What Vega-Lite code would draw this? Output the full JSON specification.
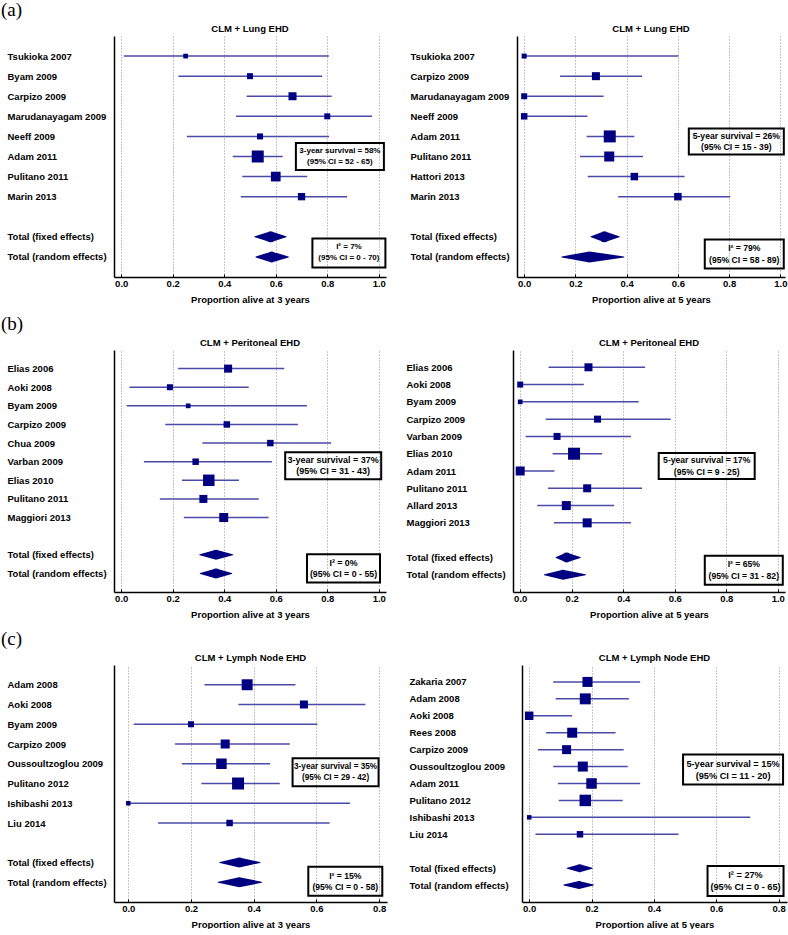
{
"$schema": "https://vega.github.io/schema/vega-lite/v6.json",
"padding": {"left": 1, "top": 0, "right": 0, "bottom": 0},
"config": {
 "view": {"stroke": null},
 "font": "Liberation Sans",
 "title": {"fontSize": 9.5, "fontWeight": "bold", "color": "black", "offset": 3, "frame": "group"},
 "axisX": {"grid": true, "gridColor": "#8c8c8c", "gridDash": [1, 2], "gridWidth": 1, "tickSize": -3, "tickColor": "black", "domainColor": "black", "domainWidth": 1.5, "labelFontSize": 9.5, "labelFontWeight": "bold", "labelColor": "black", "labelPadding": 4, "labelFlush": false, "labelOverlap": false, "titleFontSize": 9.5, "titleFontWeight": "bold", "titleColor": "black", "titlePadding": 7},
 "axisY": {"grid": false, "ticks": false, "domainColor": "black", "domainWidth": 1.5, "labelAlign": "left", "labelBaseline": "middle", "labelFontSize": 9.5, "labelFontWeight": "bold", "labelColor": "black", "labelLimit": 300}
},
"datasets": {
 "lung3": [
  {"study": "Tsukioka 2007", "kind": "study", "est": 0.25, "lo": 0.01, "hi": 0.806, "weight": 3.7},
  {"study": "Byam 2009", "kind": "study", "est": 0.5, "lo": 0.222, "hi": 0.78, "weight": 6},
  {"study": "Carpizo 2009", "kind": "study", "est": 0.665, "lo": 0.487, "hi": 0.817, "weight": 10.7},
  {"study": "Marudanayagam 2009", "kind": "study", "est": 0.8, "lo": 0.446, "hi": 0.974, "weight": 6},
  {"study": "Neeff 2009", "kind": "study", "est": 0.539, "lo": 0.255, "hi": 0.807, "weight": 6},
  {"study": "Adam 2011", "kind": "study", "est": 0.53, "lo": 0.433, "hi": 0.627, "weight": 24},
  {"study": "Pulitano 2011", "kind": "study", "est": 0.6, "lo": 0.47, "hi": 0.722, "weight": 15.7},
  {"study": "Marin 2013", "kind": "study", "est": 0.7, "lo": 0.464, "hi": 0.877, "weight": 8.9},
  {"study": "Total (fixed effects)", "kind": "total", "est": 0.58, "lo": 0.519, "hi": 0.64},
  {"study": "Total (random effects)", "kind": "total", "est": 0.584, "lo": 0.523, "hi": 0.649}
 ],
 "lung5": [
  {"study": "Tsukioka 2007", "kind": "study", "est": 0, "lo": 0, "hi": 0.602, "weight": 4.2},
  {"study": "Carpizo 2009", "kind": "study", "est": 0.28, "lo": 0.14, "hi": 0.46, "weight": 10.7},
  {"study": "Marudanayagam 2009", "kind": "study", "est": 0, "lo": 0, "hi": 0.31, "weight": 6},
  {"study": "Neeff 2009", "kind": "study", "est": 0, "lo": 0, "hi": 0.247, "weight": 7},
  {"study": "Adam 2011", "kind": "study", "est": 0.334, "lo": 0.244, "hi": 0.43, "weight": 24},
  {"study": "Pulitano 2011", "kind": "study", "est": 0.332, "lo": 0.218, "hi": 0.464, "weight": 16.7},
  {"study": "Hattori 2013", "kind": "study", "est": 0.43, "lo": 0.248, "hi": 0.626, "weight": 9.4},
  {"study": "Marin 2013", "kind": "study", "est": 0.6, "lo": 0.367, "hi": 0.804, "weight": 9.4},
  {"study": "Total (fixed effects)", "kind": "total", "est": 0.313, "lo": 0.261, "hi": 0.371},
  {"study": "Total (random effects)", "kind": "total", "est": 0.255, "lo": 0.147, "hi": 0.389}
 ],
 "perit3": [
  {"study": "Elias 2006", "kind": "study", "est": 0.415, "lo": 0.221, "hi": 0.633, "weight": 10.7},
  {"study": "Aoki 2008", "kind": "study", "est": 0.189, "lo": 0.032, "hi": 0.495, "weight": 6},
  {"study": "Byam 2009", "kind": "study", "est": 0.26, "lo": 0.021, "hi": 0.721, "weight": 3.7},
  {"study": "Carpizo 2009", "kind": "study", "est": 0.41, "lo": 0.171, "hi": 0.686, "weight": 7},
  {"study": "Chua 2009", "kind": "study", "est": 0.579, "lo": 0.315, "hi": 0.815, "weight": 7},
  {"study": "Varban 2009", "kind": "study", "est": 0.289, "lo": 0.088, "hi": 0.585, "weight": 7},
  {"study": "Elias 2010", "kind": "study", "est": 0.34, "lo": 0.236, "hi": 0.457, "weight": 22},
  {"study": "Pulitano 2011", "kind": "study", "est": 0.319, "lo": 0.15, "hi": 0.534, "weight": 10.7},
  {"study": "Maggiori 2013", "kind": "study", "est": 0.398, "lo": 0.243, "hi": 0.572, "weight": 13.5},
  {"study": "Total (fixed effects)", "kind": "total", "est": 0.368, "lo": 0.305, "hi": 0.433},
  {"study": "Total (random effects)", "kind": "total", "est": 0.368, "lo": 0.307, "hi": 0.429}
 ],
 "perit5": [
  {"study": "Elias 2006", "kind": "study", "est": 0.265, "lo": 0.11, "hi": 0.485, "weight": 10.7},
  {"study": "Aoki 2008", "kind": "study", "est": 0, "lo": 0, "hi": 0.247, "weight": 6},
  {"study": "Byam 2009", "kind": "study", "est": 0, "lo": 0, "hi": 0.46, "weight": 3.7},
  {"study": "Carpizo 2009", "kind": "study", "est": 0.3, "lo": 0.099, "hi": 0.584, "weight": 8.2},
  {"study": "Varban 2009", "kind": "study", "est": 0.143, "lo": 0.021, "hi": 0.43, "weight": 8.2},
  {"study": "Elias 2010", "kind": "study", "est": 0.209, "lo": 0.126, "hi": 0.318, "weight": 24},
  {"study": "Adam 2011", "kind": "study", "est": 0, "lo": 0, "hi": 0.133, "weight": 13.5},
  {"study": "Pulitano 2011", "kind": "study", "est": 0.26, "lo": 0.108, "hi": 0.473, "weight": 10.7},
  {"study": "Allard 2013", "kind": "study", "est": 0.179, "lo": 0.066, "hi": 0.365, "weight": 13.5},
  {"study": "Maggiori 2013", "kind": "study", "est": 0.26, "lo": 0.131, "hi": 0.43, "weight": 13.5},
  {"study": "Total (fixed effects)", "kind": "total", "est": 0.18, "lo": 0.139, "hi": 0.233},
  {"study": "Total (random effects)", "kind": "total", "est": 0.166, "lo": 0.094, "hi": 0.253}
 ],
 "lymph3": [
  {"study": "Adam 2008", "kind": "study", "est": 0.379, "lo": 0.243, "hi": 0.533, "weight": 20},
  {"study": "Aoki 2008", "kind": "study", "est": 0.56, "lo": 0.351, "hi": 0.756, "weight": 10.7},
  {"study": "Byam 2009", "kind": "study", "est": 0.2, "lo": 0.017, "hi": 0.603, "weight": 6},
  {"study": "Carpizo 2009", "kind": "study", "est": 0.309, "lo": 0.149, "hi": 0.515, "weight": 13.5},
  {"study": "Oussoultzoglou 2009", "kind": "study", "est": 0.297, "lo": 0.171, "hi": 0.452, "weight": 18.4},
  {"study": "Pulitano 2012", "kind": "study", "est": 0.35, "lo": 0.233, "hi": 0.483, "weight": 24},
  {"study": "Ishibashi 2013", "kind": "study", "est": 0, "lo": 0, "hi": 0.707, "weight": 3.4},
  {"study": "Liu 2014", "kind": "study", "est": 0.323, "lo": 0.095, "hi": 0.642, "weight": 7},
  {"study": "Total (fixed effects)", "kind": "total", "est": 0.354, "lo": 0.292, "hi": 0.42},
  {"study": "Total (random effects)", "kind": "total", "est": 0.354, "lo": 0.287, "hi": 0.425}
 ],
 "lymph5": [
  {"study": "Zakaria 2007", "kind": "study", "est": 0.187, "lo": 0.077, "hi": 0.356, "weight": 16.7},
  {"study": "Adam 2008", "kind": "study", "est": 0.18, "lo": 0.085, "hi": 0.32, "weight": 20},
  {"study": "Aoki 2008", "kind": "study", "est": 0, "lo": 0, "hi": 0.138, "weight": 12},
  {"study": "Rees 2008", "kind": "study", "est": 0.138, "lo": 0.054, "hi": 0.277, "weight": 16.7},
  {"study": "Carpizo 2009", "kind": "study", "est": 0.12, "lo": 0.028, "hi": 0.303, "weight": 13.5},
  {"study": "Oussoultzoglou 2009", "kind": "study", "est": 0.172, "lo": 0.077, "hi": 0.316, "weight": 16.7},
  {"study": "Adam 2011", "kind": "study", "est": 0.2, "lo": 0.092, "hi": 0.356, "weight": 18.4},
  {"study": "Pulitano 2012", "kind": "study", "est": 0.18, "lo": 0.095, "hi": 0.3, "weight": 22},
  {"study": "Ishibashi 2013", "kind": "study", "est": 0, "lo": 0, "hi": 0.709, "weight": 3.4},
  {"study": "Liu 2014", "kind": "study", "est": 0.163, "lo": 0.02, "hi": 0.479, "weight": 7},
  {"study": "Total (fixed effects)", "kind": "total", "est": 0.162, "lo": 0.122, "hi": 0.202},
  {"study": "Total (random effects)", "kind": "total", "est": 0.16, "lo": 0.111, "hi": 0.206}
 ],
 "notes": [
  {"panel": "lung3", "survival": "3-year survival = 58%\n(95% CI = 52 - 65)", "het": "I² = 7%\n(95% CI = 0 - 70)"},
  {"panel": "lung5", "survival": "5-year survival = 26%\n(95% CI = 15 - 39)", "het": "I² = 79%\n(95% CI = 58 - 89)"},
  {"panel": "perit3", "survival": "3-year survival = 37%\n(95% CI = 31 - 43)", "het": "I² = 0%\n(95% CI = 0 - 55)"},
  {"panel": "perit5", "survival": "5-year survival = 17%\n(95% CI = 9 - 25)", "het": "I² = 65%\n(95% CI = 31 - 82)"},
  {"panel": "lymph3", "survival": "3-year survival = 35%\n(95% CI = 29 - 42)", "het": "I² = 15%\n(95% CI = 0 - 58)"},
  {"panel": "lymph5", "survival": "5-year survival = 15%\n(95% CI = 11 - 20)", "het": "I² = 27%\n(95% CI = 0 - 65)"}
 ]
},
"columns": 1,
"align": "none",
"spacing": 10,
"concat": [
 {
  "title": {"text": "(a)", "anchor": "start", "frame": "bounds", "font": "Liberation Serif", "fontSize": 19, "fontWeight": "normal", "dx": -6, "offset": 4},
  "spacing": 20,
  "hconcat": [
   {
    "width": 272, "height": 241,
    "title": "CLM + Lung EHD",
    "data": {"name": "lung3"},
    "layer": [
     {
      "encoding": {
       "y": {"field": "study", "type": "nominal", "scale": {"type": "point", "padding": 1.1, "domain": ["Tsukioka 2007", "Byam 2009", "Carpizo 2009", "Marudanayagam 2009", "Neeff 2009", "Adam 2011", "Pulitano 2011", "Marin 2013", " ", "Total (fixed effects)", "Total (random effects)"]}, "axis": {"title": null, "labelPadding": 107, "minExtent": 107, "maxExtent": 107}},
       "x": {"field": "est", "type": "quantitative", "scale": {"domain": [-0.028, 1.028], "nice": false, "zero": false}, "axis": {"title": "Proportion alive at 3 years", "values": [0, 0.1, 0.2, 0.3, 0.4, 0.5, 0.6, 0.7, 0.8, 0.9, 1], "labelExpr": "round(datum.value*10)%2==0 ? format(datum.value,'.1f') : ''", "gridOpacity": {"condition": {"test": "round(datum.value*10)%2==1", "value": 0}, "value": 1}}}
      },
      "layer": [
       {"transform": [{"filter": "datum.kind == 'study'"}], "mark": {"type": "rule", "color": "#4a4aa8", "strokeWidth": 1.5}, "encoding": {"x": {"field": "lo", "type": "quantitative"}, "x2": {"field": "hi"}}},
       {"transform": [{"filter": "datum.kind == 'study'"}], "mark": {"type": "point", "shape": "square", "filled": true, "color": "#000080", "opacity": 1}, "encoding": {"size": {"field": "weight", "type": "quantitative", "scale": {"domain": [0, 30], "range": [0, 180]}, "legend": null}}},
       {"transform": [{"filter": "datum.kind == 'total'"}, {"fold": ["lo", "est", "hi"], "as": ["k", "v"]}], "mark": {"type": "trail", "color": "#000080"}, "encoding": {"x": {"field": "v", "type": "quantitative"}, "order": {"field": "v", "type": "quantitative"}, "detail": {"field": "study"}, "size": {"condition": {"test": "datum.k == 'est'", "value": 11}, "value": 0}}}
      ]
     },
     {
      "data": {"name": "notes"}, "transform": [{"filter": "datum.panel == 'lung3'"}],
      "encoding": {"x": {"datum": 0.849}, "y": {"datum": "Adam 2011"}},
      "layer": [
       {"mark": {"type": "point", "shape": "M-1,-0.307L1,-0.307L1,0.307L-1,0.307Z", "size": 7744, "filled": false, "color": "black", "strokeWidth": 2, "opacity": 1, "yOffset": 0}},
       {"mark": {"type": "text", "lineBreak": "\n", "fontSize": 8, "fontWeight": "bold", "lineHeight": 11, "color": "black", "yOffset": -5.5}, "encoding": {"text": {"field": "survival"}}}
      ]
     },
     {
      "data": {"name": "notes"}, "transform": [{"filter": "datum.panel == 'lung3'"}],
      "encoding": {"x": {"datum": 0.884}, "y": {"datum": "Total (random effects)"}},
      "layer": [
       {"mark": {"type": "point", "shape": "M-1,-0.397L1,-0.397L1,0.397L-1,0.397Z", "size": 5329, "filled": false, "color": "black", "strokeWidth": 2, "opacity": 1, "yOffset": -4}},
       {"mark": {"type": "text", "lineBreak": "\n", "fontSize": 8, "fontWeight": "bold", "lineHeight": 11, "color": "black", "yOffset": -9.5}, "encoding": {"text": {"field": "het"}}}
      ]
     }
    ]
   },
   {
    "width": 268, "height": 241,
    "title": "CLM + Lung EHD",
    "data": {"name": "lung5"},
    "layer": [
     {
      "encoding": {
       "y": {"field": "study", "type": "nominal", "scale": {"type": "point", "padding": 1.1, "domain": ["Tsukioka 2007", "Carpizo 2009", "Marudanayagam 2009", "Neeff 2009", "Adam 2011", "Pulitano 2011", "Hattori 2013", "Marin 2013", " ", "Total (fixed effects)", "Total (random effects)"]}, "axis": {"title": null, "labelPadding": 107, "minExtent": 107, "maxExtent": 107}},
       "x": {"field": "est", "type": "quantitative", "scale": {"domain": [-0.028, 1.018], "nice": false, "zero": false}, "axis": {"title": "Proportion alive at 5 years", "values": [0, 0.1, 0.2, 0.3, 0.4, 0.5, 0.6, 0.7, 0.8, 0.9, 1], "labelExpr": "round(datum.value*10)%2==0 ? format(datum.value,'.1f') : ''", "gridOpacity": {"condition": {"test": "round(datum.value*10)%2==1", "value": 0}, "value": 1}}}
      },
      "layer": [
       {"transform": [{"filter": "datum.kind == 'study'"}], "mark": {"type": "rule", "color": "#4a4aa8", "strokeWidth": 1.5}, "encoding": {"x": {"field": "lo", "type": "quantitative"}, "x2": {"field": "hi"}}},
       {"transform": [{"filter": "datum.kind == 'study'"}], "mark": {"type": "point", "shape": "square", "filled": true, "color": "#000080", "opacity": 1}, "encoding": {"size": {"field": "weight", "type": "quantitative", "scale": {"domain": [0, 30], "range": [0, 180]}, "legend": null}}},
       {"transform": [{"filter": "datum.kind == 'total'"}, {"fold": ["lo", "est", "hi"], "as": ["k", "v"]}], "mark": {"type": "trail", "color": "#000080"}, "encoding": {"x": {"field": "v", "type": "quantitative"}, "order": {"field": "v", "type": "quantitative"}, "detail": {"field": "study"}, "size": {"condition": {"test": "datum.k == 'est'", "value": 11}, "value": 0}}}
      ]
     },
     {
      "data": {"name": "notes"}, "transform": [{"filter": "datum.panel == 'lung5'"}],
      "encoding": {"x": {"datum": 0.828}, "y": {"datum": "Adam 2011"}},
      "layer": [
       {"mark": {"type": "point", "shape": "M-1,-0.274L1,-0.274L1,0.274L-1,0.274Z", "size": 9025, "filled": false, "color": "black", "strokeWidth": 2, "opacity": 1, "yOffset": 5}},
       {"mark": {"type": "text", "lineBreak": "\n", "fontSize": 8.6, "fontWeight": "bold", "lineHeight": 11.5, "color": "black", "yOffset": -0.75}, "encoding": {"text": {"field": "survival"}}}
      ]
     },
     {
      "data": {"name": "notes"}, "transform": [{"filter": "datum.panel == 'lung5'"}],
      "encoding": {"x": {"datum": 0.859}, "y": {"datum": "Total (random effects)"}},
      "layer": [
       {"mark": {"type": "point", "shape": "M-1,-0.367L1,-0.367L1,0.367L-1,0.367Z", "size": 6241, "filled": false, "color": "black", "strokeWidth": 2, "opacity": 1, "yOffset": -3}},
       {"mark": {"type": "text", "lineBreak": "\n", "fontSize": 8.6, "fontWeight": "bold", "lineHeight": 11.5, "color": "black", "yOffset": -8.75}, "encoding": {"text": {"field": "het"}}}
      ]
     }
    ]
   }
  ]
 },
 {
  "title": {"text": "(b)", "anchor": "start", "frame": "bounds", "font": "Liberation Serif", "fontSize": 19, "fontWeight": "normal", "dx": -6, "offset": 4},
  "spacing": 20,
  "hconcat": [
   {
    "width": 272, "height": 242,
    "title": "CLM + Peritoneal EHD",
    "data": {"name": "perit3"},
    "layer": [
     {
      "encoding": {
       "y": {"field": "study", "type": "nominal", "scale": {"type": "point", "padding": 1.23, "domain": ["Elias 2006", "Aoki 2008", "Byam 2009", "Carpizo 2009", "Chua 2009", "Varban 2009", "Elias 2010", "Pulitano 2011", "Maggiori 2013", " ", "Total (fixed effects)", "Total (random effects)"]}, "axis": {"title": null, "labelPadding": 107, "minExtent": 107, "maxExtent": 107}},
       "x": {"field": "est", "type": "quantitative", "scale": {"domain": [-0.028, 1.028], "nice": false, "zero": false}, "axis": {"title": "Proportion alive at 3 years", "values": [0, 0.1, 0.2, 0.3, 0.4, 0.5, 0.6, 0.7, 0.8, 0.9, 1], "labelExpr": "round(datum.value*10)%2==0 ? format(datum.value,'.1f') : ''", "gridOpacity": {"condition": {"test": "round(datum.value*10)%2==1", "value": 0}, "value": 1}}}
      },
      "layer": [
       {"transform": [{"filter": "datum.kind == 'study'"}], "mark": {"type": "rule", "color": "#4a4aa8", "strokeWidth": 1.5}, "encoding": {"x": {"field": "lo", "type": "quantitative"}, "x2": {"field": "hi"}}},
       {"transform": [{"filter": "datum.kind == 'study'"}], "mark": {"type": "point", "shape": "square", "filled": true, "color": "#000080", "opacity": 1}, "encoding": {"size": {"field": "weight", "type": "quantitative", "scale": {"domain": [0, 30], "range": [0, 180]}, "legend": null}}},
       {"transform": [{"filter": "datum.kind == 'total'"}, {"fold": ["lo", "est", "hi"], "as": ["k", "v"]}], "mark": {"type": "trail", "color": "#000080"}, "encoding": {"x": {"field": "v", "type": "quantitative"}, "order": {"field": "v", "type": "quantitative"}, "detail": {"field": "study"}, "size": {"condition": {"test": "datum.k == 'est'", "value": 10}, "value": 0}}}
      ]
     },
     {
      "data": {"name": "notes"}, "transform": [{"filter": "datum.panel == 'perit3'"}],
      "encoding": {"x": {"datum": 0.823}, "y": {"datum": "Varban 2009"}},
      "layer": [
       {"mark": {"type": "point", "shape": "M-1,-0.281L1,-0.281L1,0.281L-1,0.281Z", "size": 9216, "filled": false, "color": "black", "strokeWidth": 2, "opacity": 1, "yOffset": 4}},
       {"mark": {"type": "text", "lineBreak": "\n", "fontSize": 9, "fontWeight": "bold", "lineHeight": 11.5, "color": "black", "yOffset": -1.75}, "encoding": {"text": {"field": "survival"}}}
      ]
     },
     {
      "data": {"name": "notes"}, "transform": [{"filter": "datum.panel == 'perit3'"}],
      "encoding": {"x": {"datum": 0.863}, "y": {"datum": "Total (random effects)"}},
      "layer": [
       {"mark": {"type": "point", "shape": "M-1,-0.384L1,-0.384L1,0.384L-1,0.384Z", "size": 5329, "filled": false, "color": "black", "strokeWidth": 2, "opacity": 1, "yOffset": -5}},
       {"mark": {"type": "text", "lineBreak": "\n", "fontSize": 8.8, "fontWeight": "bold", "lineHeight": 11.5, "color": "black", "yOffset": -10.75}, "encoding": {"text": {"field": "het"}}}
      ]
     }
    ]
   },
   {
    "width": 272, "height": 242,
    "title": "CLM + Peritoneal EHD",
    "data": {"name": "perit5"},
    "layer": [
     {
      "encoding": {
       "y": {"field": "study", "type": "nominal", "scale": {"type": "point", "padding": 1.3, "domain": ["Elias 2006", "Aoki 2008", "Byam 2009", "Carpizo 2009", "Varban 2009", "Elias 2010", "Adam 2011", "Pulitano 2011", "Allard 2013", "Maggiori 2013", " ", "Total (fixed effects)", "Total (random effects)"]}, "axis": {"title": null, "labelPadding": 107, "minExtent": 107, "maxExtent": 107}},
       "x": {"field": "est", "type": "quantitative", "scale": {"domain": [-0.028, 1.028], "nice": false, "zero": false}, "axis": {"title": "Proportion alive at 5 years", "values": [0, 0.1, 0.2, 0.3, 0.4, 0.5, 0.6, 0.7, 0.8, 0.9, 1], "labelExpr": "round(datum.value*10)%2==0 ? format(datum.value,'.1f') : ''", "gridOpacity": {"condition": {"test": "round(datum.value*10)%2==1", "value": 0}, "value": 1}}}
      },
      "layer": [
       {"transform": [{"filter": "datum.kind == 'study'"}], "mark": {"type": "rule", "color": "#4a4aa8", "strokeWidth": 1.5}, "encoding": {"x": {"field": "lo", "type": "quantitative"}, "x2": {"field": "hi"}}},
       {"transform": [{"filter": "datum.kind == 'study'"}], "mark": {"type": "point", "shape": "square", "filled": true, "color": "#000080", "opacity": 1}, "encoding": {"size": {"field": "weight", "type": "quantitative", "scale": {"domain": [0, 30], "range": [0, 180]}, "legend": null}}},
       {"transform": [{"filter": "datum.kind == 'total'"}, {"fold": ["lo", "est", "hi"], "as": ["k", "v"]}], "mark": {"type": "trail", "color": "#000080"}, "encoding": {"x": {"field": "v", "type": "quantitative"}, "order": {"field": "v", "type": "quantitative"}, "detail": {"field": "study"}, "size": {"condition": {"test": "datum.k == 'est'", "value": 10}, "value": 0}}}
      ]
     },
     {
      "data": {"name": "notes"}, "transform": [{"filter": "datum.panel == 'perit5'"}],
      "encoding": {"x": {"datum": 0.724}, "y": {"datum": "Adam 2011"}},
      "layer": [
       {"mark": {"type": "point", "shape": "M-1,-0.271L1,-0.271L1,0.271L-1,0.271Z", "size": 9216, "filled": false, "color": "black", "strokeWidth": 2, "opacity": 1, "yOffset": -5}},
       {"mark": {"type": "text", "lineBreak": "\n", "fontSize": 8.6, "fontWeight": "bold", "lineHeight": 11.5, "color": "black", "yOffset": -10.75}, "encoding": {"text": {"field": "survival"}}}
      ]
     },
     {
      "data": {"name": "notes"}, "transform": [{"filter": "datum.panel == 'perit5'"}],
      "encoding": {"x": {"datum": 0.868}, "y": {"datum": "Total (random effects)"}},
      "layer": [
       {"mark": {"type": "point", "shape": "M-1,-0.372L1,-0.372L1,0.372L-1,0.372Z", "size": 6084, "filled": false, "color": "black", "strokeWidth": 2, "opacity": 1, "yOffset": -4.5}},
       {"mark": {"type": "text", "lineBreak": "\n", "fontSize": 8.6, "fontWeight": "bold", "lineHeight": 11.5, "color": "black", "yOffset": -10.25}, "encoding": {"text": {"field": "het"}}}
      ]
     }
    ]
   }
  ]
 },
 {
  "title": {"text": "(c)", "anchor": "start", "frame": "bounds", "font": "Liberation Serif", "fontSize": 19, "fontWeight": "normal", "dx": -6, "offset": 4},
  "spacing": 22,
  "hconcat": [
   {
    "width": 273, "height": 237,
    "title": "CLM + Lymph Node EHD",
    "data": {"name": "lymph3"},
    "layer": [
     {
      "encoding": {
       "y": {"field": "study", "type": "nominal", "scale": {"type": "point", "padding": 1.17, "domain": ["Adam 2008", "Aoki 2008", "Byam 2009", "Carpizo 2009", "Oussoultzoglou 2009", "Pulitano 2012", "Ishibashi 2013", "Liu 2014", " ", "Total (fixed effects)", "Total (random effects)"]}, "axis": {"title": null, "labelPadding": 107, "minExtent": 107, "maxExtent": 107}},
       "x": {"field": "est", "type": "quantitative", "scale": {"domain": [-0.0456, 0.825], "nice": false, "zero": false}, "axis": {"title": "Proportion alive at 3 years", "values": [0, 0.1, 0.2, 0.3, 0.4, 0.5, 0.6, 0.7, 0.8], "labelExpr": "round(datum.value*10)%2==0 ? format(datum.value,'.1f') : ''", "gridOpacity": {"condition": {"test": "round(datum.value*10)%2==1", "value": 0}, "value": 1}}}
      },
      "layer": [
       {"transform": [{"filter": "datum.kind == 'study'"}], "mark": {"type": "rule", "color": "#4a4aa8", "strokeWidth": 1.5}, "encoding": {"x": {"field": "lo", "type": "quantitative"}, "x2": {"field": "hi"}}},
       {"transform": [{"filter": "datum.kind == 'study'"}], "mark": {"type": "point", "shape": "square", "filled": true, "color": "#000080", "opacity": 1}, "encoding": {"size": {"field": "weight", "type": "quantitative", "scale": {"domain": [0, 30], "range": [0, 180]}, "legend": null}}},
       {"transform": [{"filter": "datum.kind == 'total'"}, {"fold": ["lo", "est", "hi"], "as": ["k", "v"]}], "mark": {"type": "trail", "color": "#000080"}, "encoding": {"x": {"field": "v", "type": "quantitative"}, "order": {"field": "v", "type": "quantitative"}, "detail": {"field": "study"}, "size": {"condition": {"test": "datum.k == 'est'", "value": 10}, "value": 0}}}
      ]
     },
     {
      "data": {"name": "notes"}, "transform": [{"filter": "datum.panel == 'lymph3'"}],
      "encoding": {"x": {"datum": 0.661}, "y": {"datum": "Oussoultzoglou 2009"}},
      "layer": [
       {"mark": {"type": "point", "shape": "M-1,-0.326L1,-0.326L1,0.326L-1,0.326Z", "size": 7396, "filled": false, "color": "black", "strokeWidth": 2, "opacity": 1, "yOffset": 8.5}},
       {"mark": {"type": "text", "lineBreak": "\n", "fontSize": 8.2, "fontWeight": "bold", "lineHeight": 11.5, "color": "black", "yOffset": 2.75}, "encoding": {"text": {"field": "survival"}}}
      ]
     },
     {
      "data": {"name": "notes"}, "transform": [{"filter": "datum.panel == 'lymph3'"}],
      "encoding": {"x": {"datum": 0.692}, "y": {"datum": "Total (random effects)"}},
      "layer": [
       {"mark": {"type": "point", "shape": "M-1,-0.392L1,-0.392L1,0.392L-1,0.392Z", "size": 5476, "filled": false, "color": "black", "strokeWidth": 2, "opacity": 1, "yOffset": -1}},
       {"mark": {"type": "text", "lineBreak": "\n", "fontSize": 8.6, "fontWeight": "bold", "lineHeight": 11.5, "color": "black", "yOffset": -6.75}, "encoding": {"text": {"field": "het"}}}
      ]
     }
    ]
   },
   {
    "width": 265, "height": 237,
    "title": "CLM + Lymph Node EHD",
    "data": {"name": "lymph5"},
    "layer": [
     {
      "encoding": {
       "y": {"field": "study", "type": "nominal", "scale": {"type": "point", "padding": 1.26, "domain": ["Zakaria 2007", "Adam 2008", "Aoki 2008", "Rees 2008", "Carpizo 2009", "Oussoultzoglou 2009", "Adam 2011", "Pulitano 2012", "Ishibashi 2013", "Liu 2014", " ", "Total (fixed effects)", "Total (random effects)"]}, "axis": {"title": null, "labelPadding": 113, "minExtent": 113, "maxExtent": 113}},
       "x": {"field": "est", "type": "quantitative", "scale": {"domain": [-0.023, 0.827], "nice": false, "zero": false}, "axis": {"title": "Proportion alive at 5 years", "values": [0, 0.1, 0.2, 0.3, 0.4, 0.5, 0.6, 0.7, 0.8], "labelExpr": "round(datum.value*10)%2==0 ? format(datum.value,'.1f') : ''", "gridOpacity": {"condition": {"test": "round(datum.value*10)%2==1", "value": 0}, "value": 1}}}
      },
      "layer": [
       {"transform": [{"filter": "datum.kind == 'study'"}], "mark": {"type": "rule", "color": "#4a4aa8", "strokeWidth": 1.5}, "encoding": {"x": {"field": "lo", "type": "quantitative"}, "x2": {"field": "hi"}}},
       {"transform": [{"filter": "datum.kind == 'study'"}], "mark": {"type": "point", "shape": "square", "filled": true, "color": "#000080", "opacity": 1}, "encoding": {"size": {"field": "weight", "type": "quantitative", "scale": {"domain": [0, 30], "range": [0, 180]}, "legend": null}}},
       {"transform": [{"filter": "datum.kind == 'total'"}, {"fold": ["lo", "est", "hi"], "as": ["k", "v"]}], "mark": {"type": "trail", "color": "#000080"}, "encoding": {"x": {"field": "v", "type": "quantitative"}, "order": {"field": "v", "type": "quantitative"}, "detail": {"field": "study"}, "size": {"condition": {"test": "datum.k == 'est'", "value": 8}, "value": 0}}}
      ]
     },
     {
      "data": {"name": "notes"}, "transform": [{"filter": "datum.panel == 'lymph5'"}],
      "encoding": {"x": {"datum": 0.654}, "y": {"datum": "Oussoultzoglou 2009"}},
      "layer": [
       {"mark": {"type": "point", "shape": "M-1,-0.3L1,-0.3L1,0.3L-1,0.3Z", "size": 10000, "filled": false, "color": "black", "strokeWidth": 2, "opacity": 1, "yOffset": 3}},
       {"mark": {"type": "text", "lineBreak": "\n", "fontSize": 9.2, "fontWeight": "bold", "lineHeight": 12, "color": "black", "yOffset": -3}, "encoding": {"text": {"field": "survival"}}}
      ]
     },
     {
      "data": {"name": "notes"}, "transform": [{"filter": "datum.panel == 'lymph5'"}],
      "encoding": {"x": {"datum": 0.694}, "y": {"datum": "Total (random effects)"}},
      "layer": [
       {"mark": {"type": "point", "shape": "M-1,-0.395L1,-0.395L1,0.395L-1,0.395Z", "size": 5776, "filled": false, "color": "black", "strokeWidth": 2, "opacity": 1, "yOffset": -4}},
       {"mark": {"type": "text", "lineBreak": "\n", "fontSize": 9.2, "fontWeight": "bold", "lineHeight": 12, "color": "black", "yOffset": -10}, "encoding": {"text": {"field": "het"}}}
      ]
     }
    ]
   }
  ]
 }
]
}
